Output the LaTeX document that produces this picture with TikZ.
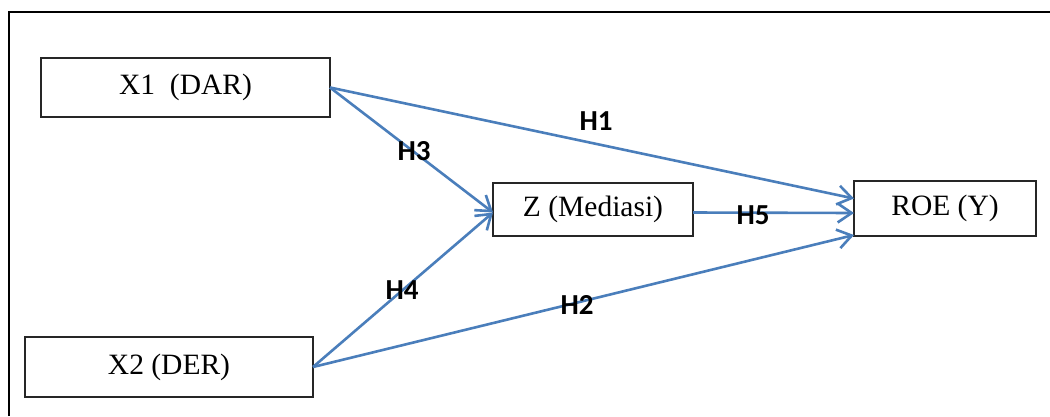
\documentclass[tikz,border=0pt]{standalone}
\usepackage{fontspec}
\setmainfont{Liberation Serif}
\newfontfamily\hfont{Carlito}
\usetikzlibrary{arrows.meta}
\definecolor{arrowblue}{RGB}{74,126,187}
\tikzset{
  box/.style={draw=black!85, line width=1.5pt, rectangle, inner sep=0pt, outer sep=0pt,
    font=\fontsize{29.5}{32}\selectfont},
  link/.style={draw=arrowblue, line width=2.6pt, -{Straight Barb[length=14pt,width=19pt,line width=2.6pt]}},
  hlab/.style={font=\hfont\bfseries\fontsize{29}{32}\selectfont, inner sep=0pt}
}
\begin{document}
\begin{tikzpicture}[x=1pt,y=-1pt]
\useasboundingbox (0,0) rectangle (1050,416);
\fill[white] (0,0) rectangle (1050,416);
\draw[line width=2pt] (9,416) -- (9,12) -- (1050,12);
\node[box, minimum width=289pt, minimum height=59pt] (x1) at (185.5,87.5) {X1~~(DAR)};
\node[box, minimum width=288pt, minimum height=60pt] (x2) at (169,367) {X2 (DER)};
\node[box, minimum width=200pt, minimum height=53pt] (z) at (593,209.5) {Z (Mediasi)};
\node[box, minimum width=182pt, minimum height=55pt] (roe) at (945,208.5) {ROE (Y)};
\draw[link] (x1.east) -- ([yshift=10pt]roe.west);
\draw[link] (x1.east) -- ([yshift=-3pt]z.west);
\draw[link] (x2.east) -- ([yshift=-3pt]z.west);
\draw[link] (x2.east) -- ([yshift=1pt]roe.south west);
\draw[link] ([yshift=-3pt]z.east) -- ([yshift=-4.5pt]roe.west);
\node[hlab] (h1) at (596,121) {H1};
\node[hlab] (h3) at (414,151) {H3};
\node[hlab] (h4) at (402,290) {H4};
\node[hlab] (h2) at (577,305) {H2};
\node[hlab] (h5) at (753,215) {H5};
\end{tikzpicture}
\end{document}
